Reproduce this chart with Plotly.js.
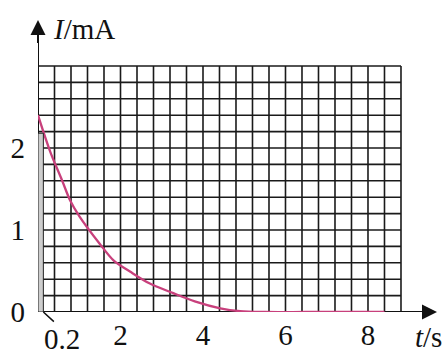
<!DOCTYPE html>
<html>
<head>
<meta charset="utf-8">
<script src="https://cdn.plot.ly/plotly-3.0.1.min.js"></script>
<style>html,body{margin:0;padding:0;background:#fff;}#chart{width:446px;height:352px;}</style>
</head>
<body>
<div id="chart"></div>
<script>
// Data
const timeS = [0, 0.3, 0.58, 0.78, 1.0, 1.5, 1.83, 2.24, 2.7, 3.28, 3.8, 4.42, 4.9, 5.5, 6.5, 7.5, 8.4];
const currentMA = [2.40, 1.95, 1.61, 1.36, 1.17, 0.83, 0.63, 0.49, 0.35, 0.23, 0.13, 0.045, 0.01, 0, 0, 0, 0];
const xTickVals = [2, 4, 6, 8];
const xTickText = ['2', '4', '6', '8'];
const yTickVals = [0, 1, 2];
const yTickText = ['0', '1', '2'];
const gridStepT = 0.4, gridMaxT = 8.8;
const gridStepI = 0.2, gridMaxI = 3.0;
const stripT = 0.13, stripI = 2.18;   // small shaded strip near t = 0
const stripLabel = '0.2';

// grid as a line trace
const gx = [], gy = [];
const nT = Math.round(gridMaxT / gridStepT), nI = Math.round(gridMaxI / gridStepI);
for (let k = 1; k <= nT; k++) { const t = k * gridStepT; gx.push(t, t, null); gy.push(0, gridMaxI, null); }
for (let k = 1; k <= nI; k++) { const v = k * gridStepI; gx.push(0, gridMaxT, null); gy.push(v, v, null); }

const fam = "'Liberation Serif', 'Times New Roman', serif";
const font = {family: fam, size: 29, color: '#111'};
const xMax = 9.673, yMax = 3.561;

const traces = [
  {x: gx, y: gy, mode: 'lines', line: {color: '#1a1a1a', width: 1.6}, hoverinfo: 'skip', showlegend: false, cliponaxis: false},
  // axis lines
  {x: [0, xMax - 0.2, null, 0, 0], y: [0, 0, null, 0, yMax - 0.2], mode: 'lines', line: {color: '#111', width: 2},
   hoverinfo: 'skip', showlegend: false, cliponaxis: false},
  {x: timeS, y: currentMA, mode: 'lines', line: {color: '#c8407c', width: 2.3, shape: 'spline', smoothing: 0.9}, showlegend: false, cliponaxis: false}
];

const layout = {
  width: 446, height: 352,
  margin: {l: 38, r: 9, t: 20, b: 40},
  paper_bgcolor: '#fff', plot_bgcolor: '#fff',
  showlegend: false,
  font: font,
  xaxis: {range: [0, xMax], showgrid: false, zeroline: false, showline: false,
          tickvals: xTickVals, ticktext: xTickText, ticks: '', tickfont: font, ticklabelstandoff: 3},
  yaxis: {range: [0, yMax], showgrid: false, zeroline: false, showline: false,
          tickvals: yTickVals, ticktext: yTickText, ticks: '', tickfont: font, ticklabelstandoff: 12},
  shapes: [
    {type: 'rect', xref: 'x', yref: 'y', x0: 0, x1: stripT, y0: 0, y1: stripI,
     fillcolor: '#cdcdcd', line: {color: '#222', width: 1}, layer: 'above'}
  ],
  annotations: [
    // arrowheads of the axes
    {x: 0, y: yMax, ax: 0, ay: yMax - 0.3, xref: 'x', yref: 'y', axref: 'x', ayref: 'y', text: '',
     showarrow: true, arrowhead: 2, arrowsize: 1.5, arrowwidth: 2, arrowcolor: '#111'},
    {x: xMax, y: 0, ax: xMax - 0.4, ay: 0, xref: 'x', yref: 'y', axref: 'x', ayref: 'y', text: '',
     showarrow: true, arrowhead: 2, arrowsize: 1.5, arrowwidth: 2, arrowcolor: '#111'},
    // axis titles
    {x: 1.12, y: 3.45, xref: 'x', yref: 'y', text: '<i>I</i>/mA', showarrow: false, font: font, xanchor: 'center', yanchor: 'middle'},
    {x: 9.46, y: -0.0856, xref: 'x', yref: 'paper', text: '<i>t</i>/s', showarrow: false, font: font, xanchor: 'center', yanchor: 'middle'},
    // leader line of the strip label
    {x: stripT, y: 0, xref: 'x', yref: 'y', ax: 12, ay: 11, text: '',
     showarrow: true, arrowhead: 0, arrowwidth: 1.5, arrowcolor: '#111', standoff: 0},
    // strip label
    {x: 0.58, y: -0.094, xref: 'x', yref: 'paper', text: stripLabel, showarrow: false, font: font,
     xanchor: 'center', yanchor: 'middle'}
  ]
};

Plotly.newPlot('chart', traces, layout, {displayModeBar: false, staticPlot: true});
</script>
</body>
</html>
